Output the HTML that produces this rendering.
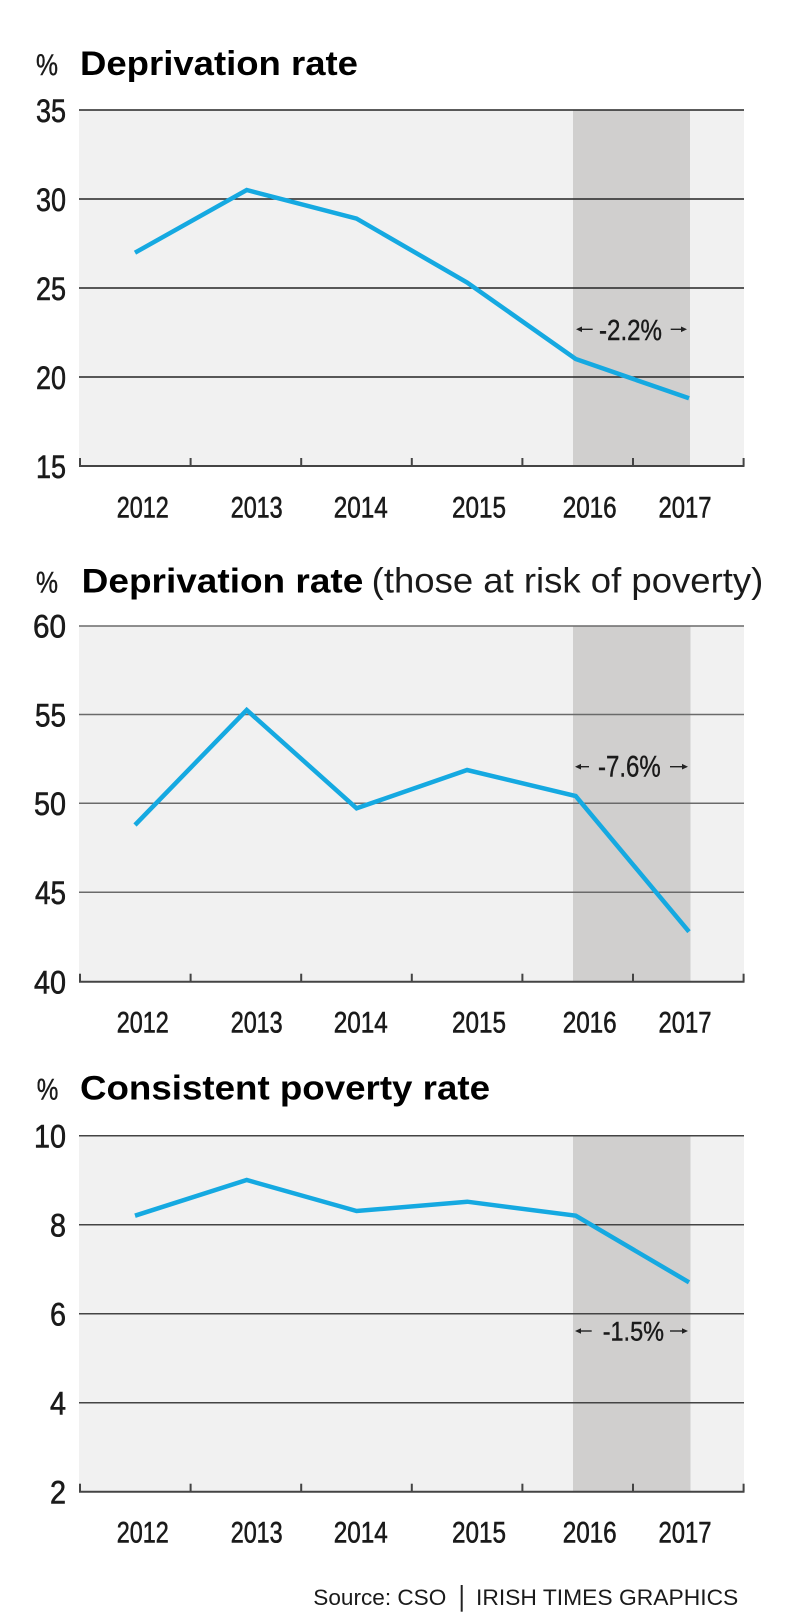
<!DOCTYPE html>
<html>
<head>
<meta charset="utf-8">
<style>
html,body{margin:0;padding:0;background:#fff;}
svg{display:block;}
text{font-family:"Liberation Sans",Arial,sans-serif;fill:#1a1a1a;}
.t{font-weight:bold;fill:#000;}
.n{stroke:#1a1a1a;stroke-width:0.6;}
</style>
</head>
<body>
<svg width="800" height="1623" viewBox="0 0 800 1623" xmlns="http://www.w3.org/2000/svg">
<rect x="0" y="0" width="800" height="1623" fill="#fff"/>

<!-- ============ CHART 1 ============ -->
<text class="n" x="36" y="75" font-size="30" textLength="22" lengthAdjust="spacingAndGlyphs" style="stroke-width:0.4">%</text>
<text class="t" x="80" y="75" font-size="34" textLength="278" lengthAdjust="spacingAndGlyphs">Deprivation rate</text>

<rect x="79" y="110" width="665" height="356" fill="#f1f1f1"/>
<rect x="573" y="110" width="117" height="356" fill="#d0cfce"/>
<g stroke="#262626" stroke-width="1.5">
<line x1="79" y1="110" x2="744" y2="110"/>
<line x1="79" y1="199" x2="744" y2="199"/>
<line x1="79" y1="288" x2="744" y2="288"/>
<line x1="79" y1="377" x2="744" y2="377"/>
</g>
<g stroke="#444" stroke-width="2">
<line x1="79" y1="466" x2="744.5" y2="466"/>
<line x1="80" y1="458" x2="80" y2="466"/>
<line x1="190.6" y1="458" x2="190.6" y2="466"/>
<line x1="301.2" y1="458" x2="301.2" y2="466"/>
<line x1="411.8" y1="458" x2="411.8" y2="466"/>
<line x1="522.4" y1="458" x2="522.4" y2="466"/>
<line x1="633" y1="458" x2="633" y2="466"/>
<line x1="743.6" y1="458" x2="743.6" y2="466"/>
</g>
<g font-size="32" text-anchor="end" class="n">
<text x="66" y="122" textLength="30" lengthAdjust="spacingAndGlyphs">35</text>
<text x="66" y="211" textLength="30" lengthAdjust="spacingAndGlyphs">30</text>
<text x="66" y="300" textLength="30" lengthAdjust="spacingAndGlyphs">25</text>
<text x="66" y="389" textLength="30" lengthAdjust="spacingAndGlyphs">20</text>
<text x="66" y="478" textLength="30" lengthAdjust="spacingAndGlyphs">15</text>
</g>
<g font-size="30" text-anchor="middle" class="n">
<text x="142.8" y="517.5" textLength="52" lengthAdjust="spacingAndGlyphs">2012</text>
<text x="256.7" y="517.5" textLength="52" lengthAdjust="spacingAndGlyphs">2013</text>
<text x="360.8" y="517.5" textLength="54" lengthAdjust="spacingAndGlyphs">2014</text>
<text x="479" y="517.5" textLength="54" lengthAdjust="spacingAndGlyphs">2015</text>
<text x="589.7" y="517.5" textLength="54" lengthAdjust="spacingAndGlyphs">2016</text>
<text x="685" y="517.5" textLength="53" lengthAdjust="spacingAndGlyphs">2017</text>
</g>
<polyline points="135,252.7 246.7,190 356.5,218.6 467.1,282.5 575.7,359 689,398.3" fill="none" stroke="#15a9e1" stroke-width="4.5" stroke-linejoin="miter"/>
<!-- annotation -2.2% -->
<g stroke="#222" stroke-width="1.4" fill="#222">
<line x1="579" y1="329.3" x2="592.7" y2="329.3"/>
<polygon points="576,329.3 582,326.5 582,332.1" stroke="none"/>
<line x1="670.7" y1="329.3" x2="684" y2="329.3"/>
<polygon points="687,329.3 681,326.5 681,332.1" stroke="none"/>
</g>
<text class="n" x="599" y="340" font-size="29" textLength="63" lengthAdjust="spacingAndGlyphs" style="stroke-width:0.4">-2.2%</text>

<!-- ============ CHART 2 ============ -->
<text class="n" x="36" y="592.3" font-size="30" textLength="22" lengthAdjust="spacingAndGlyphs" style="stroke-width:0.4">%</text>
<text class="t" x="81.7" y="592.3" font-size="34" textLength="281.6" lengthAdjust="spacingAndGlyphs">Deprivation rate</text>
<text x="371.7" y="592.3" font-size="35" textLength="391.6" lengthAdjust="spacingAndGlyphs">(those at risk of poverty)</text>

<rect x="79" y="626" width="665" height="356" fill="#f1f1f1"/>
<rect x="573" y="626" width="117.5" height="356" fill="#d0cfce"/>
<g stroke="#6a6a6a" stroke-width="1.5">
<line x1="79" y1="626" x2="744" y2="626"/>
<line x1="79" y1="714.5" x2="744" y2="714.5"/>
<line x1="79" y1="803.3" x2="744" y2="803.3"/>
<line x1="79" y1="892.3" x2="744" y2="892.3"/>
</g>
<g stroke="#444" stroke-width="2">
<line x1="79" y1="981.7" x2="744.5" y2="981.7"/>
<line x1="80" y1="973.7" x2="80" y2="981.7"/>
<line x1="190.6" y1="973.7" x2="190.6" y2="981.7"/>
<line x1="301.2" y1="973.7" x2="301.2" y2="981.7"/>
<line x1="411.8" y1="973.7" x2="411.8" y2="981.7"/>
<line x1="522.4" y1="973.7" x2="522.4" y2="981.7"/>
<line x1="633" y1="973.7" x2="633" y2="981.7"/>
<line x1="743.6" y1="973.7" x2="743.6" y2="981.7"/>
</g>
<g font-size="32" text-anchor="end" class="n">
<text x="66" y="637.5" textLength="33" lengthAdjust="spacingAndGlyphs">60</text>
<text x="66" y="726.3" textLength="31" lengthAdjust="spacingAndGlyphs">55</text>
<text x="66" y="815" textLength="32" lengthAdjust="spacingAndGlyphs">50</text>
<text x="66" y="904" textLength="31" lengthAdjust="spacingAndGlyphs">45</text>
<text x="66" y="993.5" textLength="32" lengthAdjust="spacingAndGlyphs">40</text>
</g>
<g font-size="30" text-anchor="middle" class="n">
<text x="142.8" y="1032.7" textLength="52" lengthAdjust="spacingAndGlyphs">2012</text>
<text x="256.7" y="1032.7" textLength="52" lengthAdjust="spacingAndGlyphs">2013</text>
<text x="360.8" y="1032.7" textLength="54" lengthAdjust="spacingAndGlyphs">2014</text>
<text x="479" y="1032.7" textLength="54" lengthAdjust="spacingAndGlyphs">2015</text>
<text x="589.7" y="1032.7" textLength="54" lengthAdjust="spacingAndGlyphs">2016</text>
<text x="685" y="1032.7" textLength="53" lengthAdjust="spacingAndGlyphs">2017</text>
</g>
<polyline points="135,825 246.7,710 356.6,808.3 467.1,770 575.7,796 689,931.7" fill="none" stroke="#15a9e1" stroke-width="4.5" stroke-linejoin="miter"/>
<!-- annotation -7.6% -->
<g stroke="#222" stroke-width="1.4" fill="#222">
<line x1="578" y1="766.7" x2="589" y2="766.7"/>
<polygon points="575,766.7 581,763.9 581,769.5" stroke="none"/>
<line x1="670" y1="766.7" x2="685" y2="766.7"/>
<polygon points="688,766.7 682,763.9 682,769.5" stroke="none"/>
</g>
<text class="n" x="598" y="776.7" font-size="30" textLength="62.7" lengthAdjust="spacingAndGlyphs" style="stroke-width:0.4">-7.6%</text>

<!-- ============ CHART 3 ============ -->
<text class="n" x="36.7" y="1099.3" font-size="30" textLength="21.6" lengthAdjust="spacingAndGlyphs" style="stroke-width:0.4">%</text>
<text class="t" x="80" y="1099.3" font-size="34" textLength="410" lengthAdjust="spacingAndGlyphs">Consistent poverty rate</text>

<rect x="79" y="1135.7" width="665" height="356" fill="#f1f1f1"/>
<rect x="573" y="1135.7" width="117.5" height="356" fill="#d0cfce"/>
<g stroke="#444" stroke-width="1.5">
<line x1="79" y1="1135.7" x2="744" y2="1135.7"/>
<line x1="79" y1="1224.7" x2="744" y2="1224.7"/>
<line x1="79" y1="1313.7" x2="744" y2="1313.7"/>
<line x1="79" y1="1402.7" x2="744" y2="1402.7"/>
</g>
<g stroke="#444" stroke-width="2">
<line x1="79" y1="1491.7" x2="744.5" y2="1491.7"/>
<line x1="80" y1="1483.7" x2="80" y2="1491.7"/>
<line x1="190.6" y1="1483.7" x2="190.6" y2="1491.7"/>
<line x1="301.2" y1="1483.7" x2="301.2" y2="1491.7"/>
<line x1="411.8" y1="1483.7" x2="411.8" y2="1491.7"/>
<line x1="522.4" y1="1483.7" x2="522.4" y2="1491.7"/>
<line x1="633" y1="1483.7" x2="633" y2="1491.7"/>
<line x1="743.6" y1="1483.7" x2="743.6" y2="1491.7"/>
</g>
<g font-size="32" text-anchor="end" class="n">
<text x="66" y="1147.5" textLength="32" lengthAdjust="spacingAndGlyphs">10</text>
<text x="66" y="1236.5" textLength="16" lengthAdjust="spacingAndGlyphs">8</text>
<text x="66" y="1325.5" textLength="16" lengthAdjust="spacingAndGlyphs">6</text>
<text x="66" y="1414.5" textLength="16" lengthAdjust="spacingAndGlyphs">4</text>
<text x="66" y="1503.5" textLength="16" lengthAdjust="spacingAndGlyphs">2</text>
</g>
<g font-size="30" text-anchor="middle" class="n">
<text x="142.8" y="1542.7" textLength="52" lengthAdjust="spacingAndGlyphs">2012</text>
<text x="256.7" y="1542.7" textLength="52" lengthAdjust="spacingAndGlyphs">2013</text>
<text x="360.8" y="1542.7" textLength="54" lengthAdjust="spacingAndGlyphs">2014</text>
<text x="479" y="1542.7" textLength="54" lengthAdjust="spacingAndGlyphs">2015</text>
<text x="589.7" y="1542.7" textLength="54" lengthAdjust="spacingAndGlyphs">2016</text>
<text x="685" y="1542.7" textLength="53" lengthAdjust="spacingAndGlyphs">2017</text>
</g>
<polyline points="135,1215.7 246.7,1180 356.6,1211 467.3,1201.7 575.7,1215.7 689,1282.3" fill="none" stroke="#15a9e1" stroke-width="4.5" stroke-linejoin="miter"/>
<!-- annotation -1.5% -->
<g stroke="#222" stroke-width="1.4" fill="#222">
<line x1="578" y1="1331" x2="591.7" y2="1331"/>
<polygon points="575,1331 581,1328.2 581,1333.8" stroke="none"/>
<line x1="670" y1="1331" x2="685" y2="1331"/>
<polygon points="688,1331 682,1328.2 682,1333.8" stroke="none"/>
</g>
<text class="n" x="602.7" y="1340.7" font-size="27" textLength="61.3" lengthAdjust="spacingAndGlyphs" style="stroke-width:0.4">-1.5%</text>

<!-- ============ SOURCE ============ -->
<text x="313.3" y="1605" font-size="22" fill="#222" textLength="133" lengthAdjust="spacingAndGlyphs">Source: CSO</text>
<line x1="461.7" y1="1585" x2="461.7" y2="1611.7" stroke="#222" stroke-width="2"/>
<text x="476" y="1605" font-size="22" fill="#222" textLength="262.3" lengthAdjust="spacingAndGlyphs">IRISH TIMES GRAPHICS</text>
</svg>
</body>
</html>
